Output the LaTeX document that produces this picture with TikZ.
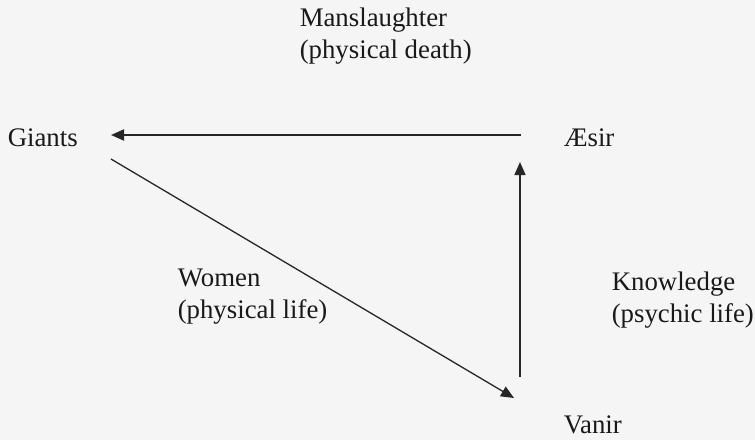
\documentclass[tikz,border=0pt]{standalone}
\usepackage{fontspec}
\setmainfont{Liberation Serif}
\usetikzlibrary{arrows.meta,positioning,calc}

\begin{document}
\begin{tikzpicture}[x=0.5pt, y=-0.5pt, line width=0.75pt,
                lbl/.style={inner sep=0pt, anchor=west, align=left, text=black!90,
                            font=\fontsize{13.4}{16}\selectfont},
                arr/.style={draw=black!85, -{Triangle[length=6.5pt, width=5.5pt]}}
            ]

% --- page (pixel units, y runs downwards) ---
                \fill[black!4] (0,0) rectangle (755,440);
                \useasboundingbox (0,0) rectangle (755,440);

% --- labels ---
                \node[lbl] (giants) at (7,138)   {Giants};
                \node[lbl] (aesir)  at (563,138) {Æsir};
                \node[lbl] (vanir)  at (563,425) {Vanir};

                \node[lbl] (mans)  at (299,36)  {Manslaughter\\(physical death)};
                \node[lbl] (women) at (177,297) {Women\\(physical life)};
                \node[lbl] (know)  at (611,300) {Knowledge\\(psychic life)};

% --- arrow ends (the arrows stop short of the words) ---
                \coordinate (A1) at (521,135);   % from Aesir
                \coordinate (G1) at (111,135);   % to Giants
                \coordinate (V1) at (520,377);   % from Vanir
                \coordinate (A2) at (520,162);   % to Aesir
                \coordinate (G2) at (111,159);   % from Giants
                \coordinate (V2) at (514,398);   % to Vanir

% --- edges ---
                \draw[arr, line width=1pt] (A1) -- (G1);     % manslaughter
                \draw[arr] (V1) -- (A2);                     % knowledge
                \draw[arr, line width=0.65pt] (G2) -- (V2);  % women

            \end{tikzpicture}
\end{document}
